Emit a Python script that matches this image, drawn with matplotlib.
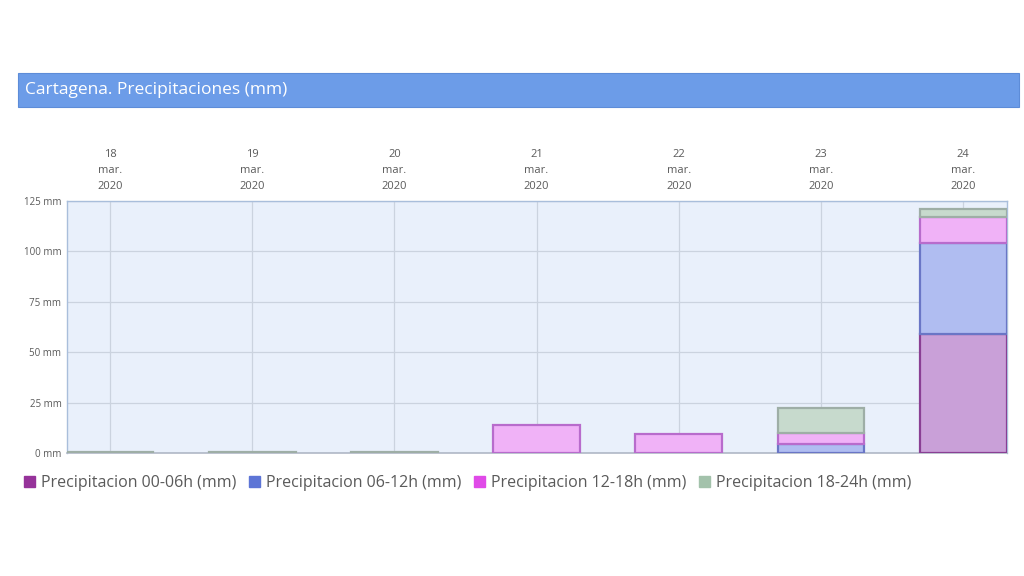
import numpy as np
import matplotlib
matplotlib.use("Agg")
import matplotlib.pyplot as plt
from matplotlib.patches import Rectangle, Patch

plt.rcParams['font.family'] = ['Open Sans', 'DejaVu Sans']

# Days shown on the top axis
days = ["18", "19", "20", "21", "22", "23", "24"]
month = "mar."
year = "2020"

# Precipitation (mm) per 6-hour block
series_names = [
    "Precipitacion 00-06h (mm)",
    "Precipitacion 06-12h (mm)",
    "Precipitacion 12-18h (mm)",
    "Precipitacion 18-24h (mm)",
]
p00_06 = [0.0, 0.0, 0.0, 0.4, 0.4, 0.4, 59.0]
p06_12 = [0.0, 0.0, 0.0, 0.0, 0.0, 4.4, 44.9]
p12_18 = [0.0, 0.0, 0.0, 13.6, 9.0, 5.4, 13.2]
p18_24 = [0.8, 0.8, 0.8, 0.0, 0.0, 12.4, 3.8]

y_ticks = [0, 25, 50, 75, 100, 125]

edge_colors = ["#8a3f94", "#6a76c6", "#b86ccc", "#9eaea6"]
fill_colors = ["#c9a0d8", "#b0bdf1", "#f0b2f7", "#c7dacd"]
legend_colors = ["#96339a", "#5d75d6", "#e04ae8", "#a3c2ab"]

fig = plt.figure(figsize=(10.24, 5.76), dpi=100)
fig.patch.set_facecolor("white")

# Title banner
fig.patches.append(Rectangle((0.0176, 0.8142), 0.9775, 0.059,
                             transform=fig.transFigure, facecolor="#6c9ce8",
                             edgecolor="#5d8cd8", linewidth=0.8, zorder=0))
fig.text(0.0245, 0.8435, "Cartagena. Precipitaciones (mm)", color="white",
         fontsize=12.5, va="center", ha="left")

ax = fig.add_axes([0.0654, 0.213, 0.918, 0.4386])
ax.set_facecolor("#e9f0fb")

x = np.arange(len(days))
width = 0.61
bottom = np.zeros(len(days))
for vals, ec, fc in zip([p00_06, p06_12, p12_18, p18_24], edge_colors, fill_colors):
    vals = np.asarray(vals)
    mask = vals > 0
    ax.bar(x[mask], vals[mask], width=width, bottom=bottom[mask],
           facecolor=fc, edgecolor=ec, linewidth=1.6, zorder=3)
    bottom = bottom + vals

ax.set_xlim(-0.302, 6.308)
ax.set_ylim(0, 125)
ax.set_xticks(x)
ax.set_xticklabels([f"{d}\n{month}\n{year}" for d in days],
                   fontsize=8, color="#5a5a5a", linespacing=1.65)
ax.xaxis.set_ticks_position("top")
ax.tick_params(axis="x", length=0, pad=6)
ax.set_yticks(y_ticks)
ax.set_yticklabels([f"{v} mm" for v in y_ticks], fontsize=7, color="#5a5a5a")
ax.tick_params(axis="y", length=0, pad=4)

ax.grid(True, color="#cbd3df", linewidth=0.9, zorder=1)
ax.set_axisbelow(True)
for side in ["top", "right", "left"]:
    ax.spines[side].set_color("#a9bedb")
    ax.spines[side].set_linewidth(1.0)
ax.spines["bottom"].set_color("#b0b8c6")
ax.spines["bottom"].set_linewidth(1.2)

handles = [Patch(facecolor=c, edgecolor=c) for c in legend_colors]
fig.legend(handles, series_names, loc="center left",
           bbox_to_anchor=(0.0095, 0.161), ncol=4, frameon=False,
           fontsize=11.5, handlelength=0.7, handleheight=0.7,
           handletextpad=0.35, columnspacing=0.8, labelcolor="#5a5a5a")

fig.savefig("out.png", dpi=100, facecolor="white")
